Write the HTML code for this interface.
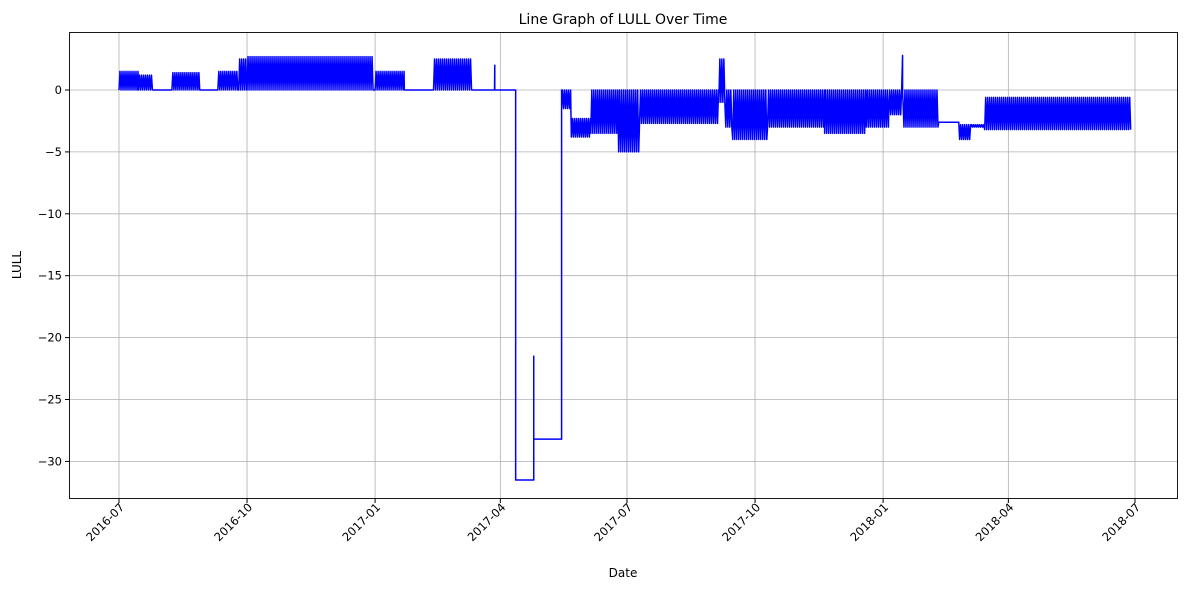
<!DOCTYPE html>
<html><head><meta charset="utf-8"><style>
body{margin:0;background:#fff;}
svg{font-family:"DejaVu Sans","Liberation Sans",sans-serif;}
</style></head><body>
<svg id="chart" width="1189" height="590">
<text x="623" y="24" text-anchor="middle" font-size="14">Line Graph of LULL Over Time</text>
<g id="grid"></g>
<g id="series"></g>
<rect x="69.5" y="32.5" width="1108" height="466" fill="none" stroke="#000" stroke-width="0.9"/>
<g id="yaxis"></g>
<g id="xaxis"></g>
<text x="623" y="577" text-anchor="middle" font-size="12">Date</text>
<text transform="translate(21,265) rotate(-90)" text-anchor="middle" font-size="12">LULL</text>
</svg>
<script>
const yTicks=[0,-5,-10,-15,-20,-25,-30];
const xTicks=["2016-07","2016-10","2017-01","2017-04","2017-07","2017-10","2018-01","2018-04","2018-07"];
// bands: [start, end, low, high]
const bandStarts=["2016-07-01","2016-07-15","2016-07-25","2016-08-08","2016-08-28","2016-09-10","2016-09-25","2016-10-01","2017-01-01","2017-01-22","2017-02-12","2017-03-12","2017-03-28","2017-05-15","2017-05-22","2017-06-05","2017-06-25","2017-07-10","2017-09-05","2017-09-10","2017-09-15","2017-10-10","2017-11-20","2017-12-20","2018-01-05","2018-01-16","2018-02-10","2018-02-25","2018-03-05","2018-03-15"];
const bandEnds=["2016-07-15","2016-07-25","2016-08-08","2016-08-28","2016-09-10","2016-09-25","2016-10-01","2016-12-31","2017-01-22","2017-02-12","2017-03-12","2017-03-28","2017-04-12","2017-05-22","2017-06-05","2017-06-25","2017-07-10","2017-09-05","2017-09-10","2017-09-15","2017-10-10","2017-11-20","2017-12-20","2018-01-05","2018-01-15","2018-02-10","2018-02-25","2018-03-05","2018-03-15","2018-06-28"];
const bandLows=[0,0,0,0,0,0,0,0,0,0,0,0,0,-1.5,-3.8,-3.5,-5,-2.7,-1,-3,-4,-3,-3.5,-3,-2,-3,-2.6,-4,-3,-3.2];
const bandHighs=[1.5,1.2,0,1.4,0,1.5,2.5,2.7,1.5,0,2.5,0,0,0,-2.3,0,0,0,2.5,0,0,0,0,0,0,0,-2.6,-2.8,-2.8,-0.6];
// discrete events
const eventDates=["2017-03-28","2017-03-28","2017-04-12","2017-04-12","2017-04-25","2017-04-25","2017-04-25","2017-05-15","2017-05-15","2018-01-15","2018-01-15"];
const eventValues=[2,0,0,-31.5,-31.5,-21.5,-28.2,-28.2,0,2.8,0];

const x0=Date.UTC(2016,6,1), pxDay=1016/730;
const X=d=>{const p=d.split("-");return 119+(Date.UTC(+p[0],+p[1]-1,p[2]?+p[2]:1)-x0)/864e5*pxDay;};
const Y=v=>90-v*12.38;
const NS="http://www.w3.org/2000/svg";
const mk=(t,a,p)=>{const e=document.createElementNS(NS,t);for(const k in a)e.setAttribute(k,a[k]);p.appendChild(e);return e;};
const grid=document.getElementById('grid'),ya=document.getElementById('yaxis'),xa=document.getElementById('xaxis');
yTicks.forEach(v=>{const y=Y(v);
 const gl=mk('line',{x1:69.5,x2:1177.5,y1:y,y2:y,stroke:'#b0b0b0','stroke-width':0.8},grid);
 
 
 mk('line',{x1:65,x2:69.5,y1:y,y2:y,stroke:'#000'},ya);
 const t=mk('text',{x:62,y:y+4,'text-anchor':'end','font-size':11.5},ya);t.textContent=v<0?'\u2212'+(-v):v;
 
 
});
xTicks.forEach(d=>{const x=X(d);
 const gl=mk('line',{x1:x,x2:x,y1:32.5,y2:498.5,stroke:'#b0b0b0','stroke-width':0.8},grid);
 
 
 mk('line',{x1:x,x2:x,y1:498.5,y2:503,stroke:'#000'},xa);
 const t=mk('text',{x:0,y:0,'text-anchor':'end','font-size':11.5,transform:`translate(${x+6},${508}) rotate(-45)`},xa);t.textContent=d;
 
 
});
const segs=[];
bandStarts.forEach((s,i)=>segs.push({x:X(s),band:i,pri:1,ord:i}));
eventDates.forEach((d,i)=>segs.push({x:X(d),ev:i,pri:0,ord:i}));
segs.sort((a,b)=>a.x-b.x||a.pri-b.pri||a.ord-b.ord);
let pts=[];
segs.forEach(s=>{
 if(s.band!==undefined){const i=s.band,a=X(bandStarts[i]),b=X(bandEnds[i]);let k=0;
  for(let x=a;x<=b;x+=1.0,k++)pts.push([x,Y(k%2?bandHighs[i]:bandLows[i])]);
 } else pts.push([s.x,Y(eventValues[s.ev])]);
});
const p=mk('path',{d:'M'+pts.map(q=>q[0].toFixed(2)+','+q[1].toFixed(2)).join('L'),fill:'none',stroke:'#0000ff','stroke-width':1.5,'stroke-linejoin':'round'},document.getElementById('series'));


</script>
</body></html>
